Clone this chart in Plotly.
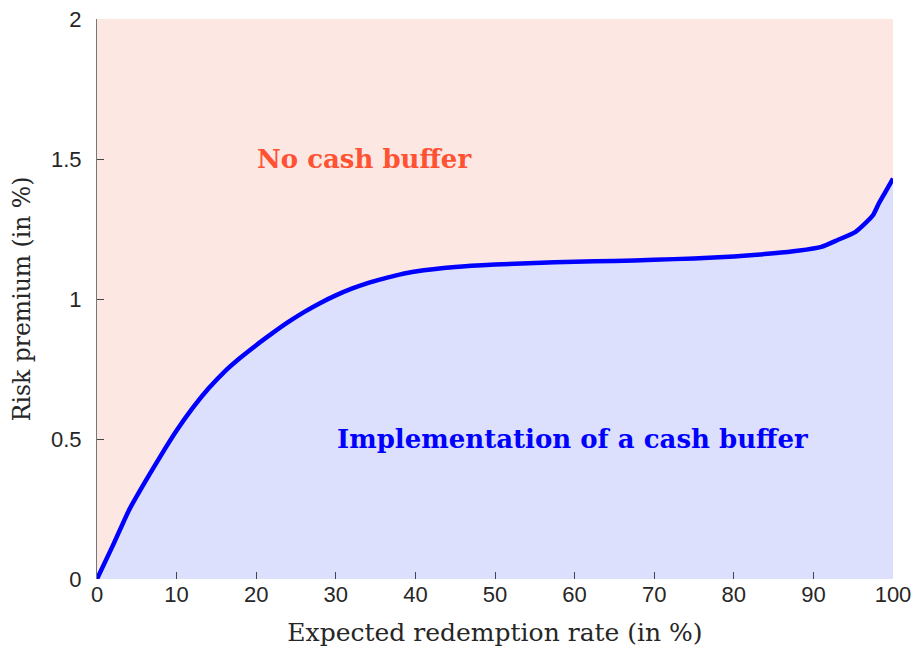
import plotly.graph_objects as go

# expected redemption rate (%) and risk premium (%)
redemption = [0, 2, 4, 6, 8, 10, 12, 14, 16, 18, 20, 22, 24, 26, 28, 30, 32, 34, 36, 38, 40,
              45, 50, 55, 60, 65, 70, 75, 80, 85, 88, 91, 93, 95.3, 96.5, 97.5, 98.2, 99, 100]
premium = [0, 0.12, 0.245, 0.345, 0.44, 0.53, 0.61, 0.68, 0.74, 0.79, 0.835, 0.877, 0.917,
           0.953, 0.985, 1.013, 1.037, 1.057, 1.073, 1.087, 1.098, 1.114, 1.123, 1.129, 1.133,
           1.136, 1.14, 1.145, 1.152, 1.163, 1.172, 1.186, 1.21, 1.24, 1.27, 1.30, 1.34, 1.38, 1.43]

x_ticks = [0, 10, 20, 30, 40, 50, 60, 70, 80, 90, 100]
y_ticks = [0, 0.5, 1, 1.5, 2]
y_labels = ["0", "0.5", "1", "1.5", "2"]

serif = "DejaVu Serif"
sans = "Liberation Sans, Arial, sans-serif"

fig = go.Figure()
fig.add_trace(go.Scatter(
    x=redemption, y=premium, mode="lines", fill="tozeroy", fillcolor="#dde0fd",
    line=dict(color="#0000ff", width=4.5, shape="spline", smoothing=0.5), hoverinfo="skip"))

fig.add_annotation(x=33.5, y=1.5, text="<b>No cash buffer</b>", showarrow=False,
                   font=dict(family=serif, size=26, color="#ff5233"))
fig.add_annotation(x=59.7, y=0.5, text="<b>Implementation of a cash buffer</b>", showarrow=False,
                   font=dict(family=serif, size=26, color="#0000ff"))

fig.update_xaxes(range=[0, 100], tickvals=x_ticks, ticks="inside", ticklen=7, tickcolor="#444",
                 showgrid=False, zeroline=False, showline=False, automargin=False,
                 ticklabeloverflow="allow",
                 tickfont=dict(family=sans, size=22, color="#262626"),
                 title=dict(text="Expected redemption rate (in %)", standoff=17,
                            font=dict(family=serif, size=25, color="#262626")))
fig.update_yaxes(range=[0, 2], tickvals=y_ticks, ticktext=y_labels, ticks="inside", ticklen=7,
                 tickcolor="#444", showgrid=False, zeroline=False, showline=True,
                 linecolor="#777", linewidth=1, automargin=False, ticklabelstandoff=10,
                 ticklabeloverflow="allow",
                 tickfont=dict(family=sans, size=22, color="#262626"),
                 title=dict(text="Risk premium (in %)", standoff=13,
                            font=dict(family=serif, size=23.5, color="#262626")))

# page body has an 8px margin, so the figure is shrunk by that much
fig.update_layout(width=911, height=639, margin=dict(l=89, r=26, t=11, b=68),
                  plot_bgcolor="#fde7e3", paper_bgcolor="white", showlegend=False)

fig.write_html("out.html")
